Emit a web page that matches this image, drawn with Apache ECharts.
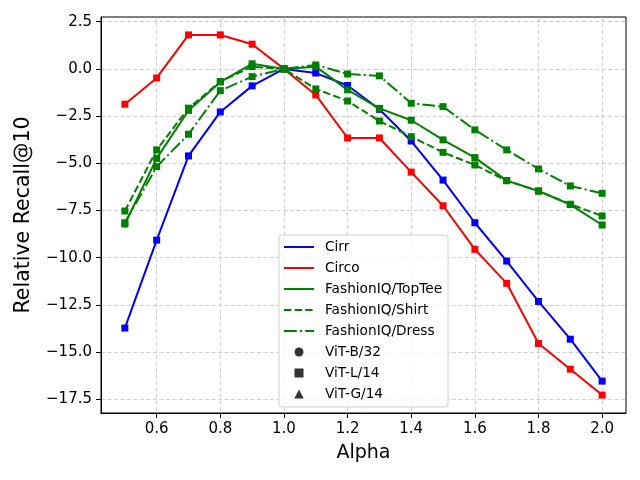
<!DOCTYPE html>
<html>
<head>
<meta charset="utf-8">
<script src="https://cdn.jsdelivr.net/npm/echarts@6/dist/echarts.min.js"></script>
<style>html,body{margin:0;padding:0;background:#fff}#c{width:640px;height:480px}</style>
</head>
<body>
<div id="c"></div>
<script>
const alpha = [0.5,0.6,0.7,0.8,0.9,1.0,1.1,1.2,1.3,1.4,1.5,1.6,1.7,1.8,1.9,2.0];
const cirr = [-13.73,-9.07,-4.61,-2.28,-0.90,0,-0.22,-0.88,-2.14,-3.82,-5.89,-8.15,-10.18,-12.32,-14.32,-16.54];
const circo = [-1.87,-0.48,1.80,1.80,1.31,0,-1.38,-3.66,-3.66,-5.47,-7.25,-9.56,-11.36,-14.55,-15.91,-17.28];
const topTee = [-8.22,-4.74,-2.20,-0.69,0.27,0,0.12,-1.11,-2.09,-2.72,-3.76,-4.70,-5.92,-6.47,-7.19,-8.27];
const shirt = [-7.53,-4.29,-2.08,-0.67,0.12,0,-1.06,-1.70,-2.76,-3.59,-4.42,-5.09,-5.92,-6.47,-7.17,-7.79];
const dress = [-8.15,-5.18,-3.46,-1.15,-0.41,0,0.21,-0.27,-0.37,-1.82,-2.00,-3.23,-4.29,-5.30,-6.20,-6.59];
const xTicks = [0.6,0.8,1.0,1.2,1.4,1.6,1.8,2.0];
const yTicks = [-17.5,-15.0,-12.5,-10.0,-7.5,-5.0,-2.5,0.0,2.5];
const lineNames = ['Cirr','Circo','FashionIQ/TopTee','FashionIQ/Shirt','FashionIQ/Dress'];
const markerNames = ['ViT-B/32','ViT-L/14','ViT-G/14'];

const FONT = 'DejaVu Sans';
const DASHED = [7.4,3.2];
const DASHDOT = [12.8,3.2,2,3.2];
const seriesDefs = [
  {name: lineNames[0], values: cirr, color: '#0000ff', type: 'solid'},
  {name: lineNames[1], values: circo, color: '#ff0000', type: 'solid'},
  {name: lineNames[2], values: topTee, color: '#008000', type: 'solid'},
  {name: lineNames[3], values: shirt, color: '#008000', type: DASHED},
  {name: lineNames[4], values: dress, color: '#008000', type: DASHDOT}
];
const series = [];
seriesDefs.forEach(d => {
  series.push({
    name: d.name + ' data', type: 'line',
    data: alpha.map((a,i) => [a, d.values[i]]),
    symbol: 'rect', symbolSize: 7, showSymbol: true,
    itemStyle: {color: d.color},
    lineStyle: {color: d.color, width: 2, type: d.type},
    animation: false, silent: true
  });
});
seriesDefs.forEach(d => {
  series.push({
    name: d.name, type: 'line', data: [], symbol: 'none',
    itemStyle: {color: 'rgba(0,0,0,0)', borderWidth: 0},
    lineStyle: {color: d.color, width: 2, type: d.type},
    animation: false
  });
});
const markerIcons = ['circle','path://M0,0L1,0L1,1L0,1Z','path://M0.5,0L1,0.95L0,0.95Z'];
markerNames.forEach((n,i) => {
  series.push({name: n, type: 'scatter', data: [], symbol: 'circle', itemStyle: {color: '#000'}, animation: false});
});

const fmt = v => Number(v).toFixed(1).replace('-', '\u2212');

const legendData = lineNames.map(n => ({name: n}))
  .concat(markerNames.map((n,i) => ({name: n, icon: markerIcons[i]})));

const chart = echarts.init(document.getElementById('c'), null, {renderer: 'canvas'});
chart.setOption({
  backgroundColor: '#fff',
  animation: false,
  grid: {left: 101, right: 14, top: 17, bottom: 67, show: true, borderColor: '#000', borderWidth: 1, backgroundColor: 'transparent'},
  xAxis: {
    type: 'value', min: 0.425, max: 2.075,
    name: 'Alpha', nameLocation: 'middle', nameGap: 31,
    nameTextStyle: {fontFamily: FONT, fontSize: 19, color: '#000'},
    axisLine: {show: true, onZero: false, lineStyle: {color: '#000', width: 1}},
    axisTick: {show: true, length: 5, customValues: xTicks, lineStyle: {color: '#000'}},
    axisLabel: {customValues: xTicks, formatter: fmt, fontFamily: FONT, fontSize: 15, color: '#000', margin: 9},
    splitLine: {show: true, lineStyle: {color: '#c4c4c4', width: 0.8, type: [4,2.5]}}
  },
  yAxis: {
    type: 'value', min: -18.23, max: 2.75,
    name: 'Relative Recall@10', nameLocation: 'middle', nameGap: 67,
    nameTextStyle: {fontFamily: FONT, fontSize: 20.5, color: '#000'},
    axisLine: {show: true, onZero: false, lineStyle: {color: '#000', width: 1}},
    axisTick: {show: true, length: 5, customValues: yTicks, lineStyle: {color: '#000'}},
    axisLabel: {customValues: yTicks, formatter: fmt, fontFamily: FONT, fontSize: 15, color: '#000', margin: 9},
    splitLine: {show: true, lineStyle: {color: '#c4c4c4', width: 0.8, type: [4,2.5]}}
  },
  legend: {
    data: legendData,
    orient: 'vertical', left: 279, top: 235,
    itemWidth: 30, itemHeight: 9, itemGap: 7,
    symbolKeepAspect: true,
    padding: [5, 6, 6, 4],
    backgroundColor: 'rgba(255,255,255,0.8)', borderColor: '#d0d0d0', borderWidth: 1, borderRadius: 3,
    textStyle: {fontFamily: FONT, fontSize: 13.7, lineHeight: 14, color: '#000', padding: [0,0,0,6]},
    selectedMode: false
  },
  series: series
});
</script>
</body>
</html>
